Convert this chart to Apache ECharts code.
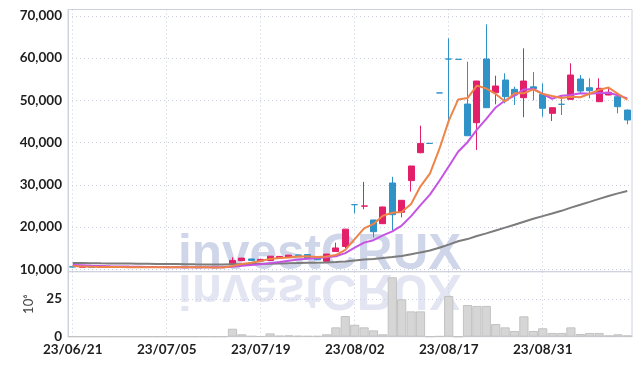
<!DOCTYPE html>
<html><head><meta charset="utf-8">
<script src="https://cdn.jsdelivr.net/npm/echarts@6/dist/echarts.min.js"></script>
<style>html,body{margin:0;padding:0;background:#fff}#c{width:641px;height:366px}</style>
</head><body><div id="c"></div>
<script>
const dates = ['23/06/21','23/06/22','23/06/23','23/06/26','23/06/27','23/06/28','23/06/29','23/06/30','23/07/03','23/07/04',
'23/07/05','23/07/06','23/07/07','23/07/10','23/07/11','23/07/12','23/07/13','23/07/14','23/07/17','23/07/18',
'23/07/19','23/07/20','23/07/21','23/07/24','23/07/25','23/07/26','23/07/27','23/07/28','23/07/31','23/08/01',
'23/08/02','23/08/03','23/08/04','23/08/07','23/08/08','23/08/09','23/08/10','23/08/11','23/08/14','23/08/16',
'23/08/17','23/08/18','23/08/21','23/08/22','23/08/23','23/08/24','23/08/25','23/08/28','23/08/29','23/08/30',
'23/08/31','23/09/01','23/09/04','23/09/05','23/09/06','23/09/07','23/09/08','23/09/11','23/09/12','23/09/13'];
const openP = [10600,10500,10550,10480,10480,10470,10450,10430,10500,10420,10600,10560,10420,10450,10450,10400,10450,
11300,12050,12450,11950,12100,12700,12950,13400,13500,12800,11900,14200,15400,25300,24950,21670,20800,30430,23500,31000,37600,39800,51750,
59780,59700,49120,44700,59780,51800,54810,52600,50620,53200,51420,46920,49060,50240,55040,52990,49670,51260,50860,47700];
const closeP = [10550,10550,10500,10520,10530,10520,10500,10500,10450,10480,10520,10480,10480,10400,10400,10480,10500,
12100,12650,12100,12350,13100,13050,13350,13300,12650,12250,13600,15050,19500,25300,25000,18900,24750,22920,26330,34450,39800,39800,51750,
59780,59700,41620,54570,48250,53390,50860,51260,54570,52800,48110,48250,49060,55990,52200,52270,52840,51900,48490,45340];
const lowP = [10450,10450,10480,10450,10450,10440,10420,10400,10420,10400,10500,10450,10400,10380,10370,10380,10430,
11250,12000,12000,11850,12050,12650,12900,13250,12300,12150,11800,14150,15000,23250,24200,17570,20700,19300,22300,28400,37450,39800,51750,
44940,59700,41600,38240,48200,49060,49290,48890,46000,50000,46120,45100,46520,50200,51660,50480,49600,51200,46920,44320];
const highP = [10650,10580,10580,10550,10560,10550,10530,10530,10520,10500,10620,10580,10500,10470,10460,10500,10520,
12840,12700,12500,12450,13150,13100,13400,13450,13600,12850,13650,16300,19550,25300,30700,21700,24800,31900,26400,34500,44000,39800,51750,
64680,59700,59140,54600,67990,55830,56390,53220,62310,56700,54030,48300,51260,58760,55990,55210,55210,52840,51800,47800];
const volume = [0.1,0.1,0.1,0.1,0.1,0.1,0.1,0.1,0.1,0.1,0.1,0.1,0.1,0.1,0.1,0.1,0.1,
5.3,1.6,0.5,0.3,2.2,0.7,0.9,0.6,0.5,0.5,1.6,6.2,13.7,7.9,6.2,4.2,1.6,39.4,24.8,16.8,16.8,0.1,0.4,
27.0,0,21.0,20.4,20.4,8.4,6.2,3.8,13.5,3.8,5.6,2.5,2.5,6.2,1.8,2.5,2.5,0.9,1.6,0.9];
const ma5 = [10750,10680,10620,10570,10530,10520,10510,10510,10500,10490,10490,10490,10480,10470,10460,10450,10450,
10780,11230,11570,11940,12460,12650,12790,13030,13090,12920,13030,13370,14610,17140,19690,20750,22690,23370,23580,25470,29650,32660,38430,
45120,50170,50530,53480,52780,51510,49740,51670,51670,52580,51520,51000,50560,50840,50720,51550,52470,53040,51540,50170];
const ma10 = [11000,10930,10860,10800,10740,10690,10640,10600,10560,10530,10510,10500,10500,10490,10480,10470,10470,
10630,10850,11010,11190,11460,11710,12010,12300,12520,12690,12840,13080,13820,15120,16310,16890,18030,18990,20360,22580,25200,27680,30900,
34350,37820,40090,43070,45610,48310,49950,51100,52580,52680,51510,50370,51110,51250,51650,51540,51740,51800,51190,50450];
const ma60 = [11500,11480,11450,11420,11400,11370,11350,11320,11300,11280,11250,11230,11200,11170,11150,11150,11160,
11190,11220,11250,11290,11340,11390,11440,11490,11530,11570,11620,11700,11850,12100,12330,12460,12690,12890,13150,13540,14000,14450,15100,
15850,16640,17150,17880,18500,19200,19870,20540,21260,21960,22580,23200,23840,24590,25270,25960,26660,27340,27970,28540];

const UP = '#e31f69', DOWN = '#2f93c8';
const FONT = 'Lato, "Open Sans", sans-serif';
const GRID_C = '#c9cddd';
const candleData = dates.map((d, i) => {
  const item = { value: [openP[i], closeP[i], lowP[i], highP[i]] };
  if (openP[i] === closeP[i]) item.itemStyle = { color: DOWN, color0: DOWN, borderColor: DOWN, borderColor0: DOWN };
  return item;
});

const chart = echarts.init(document.getElementById('c'), null, { renderer: 'canvas' });
const labelStyle = { color: '#1e1e1e', fontFamily: FONT, fontSize: 13.5, fontWeight: 'bold' };
const WM_FONT = 'bold 49.5px "Liberation Sans", sans-serif';
chart.setOption({
  animation: false,
  backgroundColor: '#fff',
  grid: [
    { left: 68, right: 9, top: 9.5, height: 262.2, show: true, borderColor: '#cfd2dc', borderWidth: 1 },
    { left: 68, right: 9, top: 271.7, height: 65, show: true, borderColor: '#cfd2dc', borderWidth: 1 }
  ],
  graphic: [
    { type: 'text', z: 0, x: 178, y: 280, silent: true,
      style: { text: 'investCRUX', font: WM_FONT, fill: '#d0d6ea', verticalAlign: 'bottom' } },
    { type: 'text', z: 0, x: 178, y: 264, scaleY: -1, silent: true,
      style: { text: 'investCRUX', font: WM_FONT, fill: '#d0d6ea', opacity: 0.6, verticalAlign: 'bottom' } }
  ],
  xAxis: [
    { type: 'category', gridIndex: 0, data: dates, boundaryGap: true,
      axisLine: { show: false }, axisTick: { show: false }, axisLabel: { show: false },
      splitLine: { show: true, interval: 9, alignWithLabel: true, lineStyle: { color: GRID_C, type: [1, 3] } } },
    { type: 'category', gridIndex: 1, data: dates, boundaryGap: true,
      axisLine: { show: true, lineStyle: { color: '#cfd2dc' } }, axisTick: { show: false },
      axisLabel: Object.assign({ interval: 9, margin: 6 }, labelStyle),
      splitLine: { show: true, interval: 9, alignWithLabel: true, lineStyle: { color: GRID_C, type: [1, 3] } } }
  ],
  yAxis: [
    { type: 'value', gridIndex: 0, min: 9430, max: 71500, splitNumber: 6, scale: true,
      axisLine: { show: true, lineStyle: { color: '#cfd2dc' } }, axisTick: { show: false },
      axisLabel: Object.assign({ margin: 6, showMinLabel: false, showMaxLabel: false,
        formatter: v => (v % 10000 === 0 ? v.toLocaleString('en-US') : '') }, labelStyle),
      splitLine: { show: true, lineStyle: { color: GRID_C, type: [1, 3] } } },
    { type: 'value', gridIndex: 1, min: 0, max: 43.1, interval: 25,
      name: '10\u2076', nameLocation: 'middle', nameRotate: 90, nameGap: 28,
      nameTextStyle: { color: '#444', fontFamily: FONT, fontSize: 13 },
      axisLine: { show: true, lineStyle: { color: '#cfd2dc' } }, axisTick: { show: false },
      axisLabel: Object.assign({ margin: 6, showMaxLabel: false,
        formatter: v => (v % 25 === 0 ? String(v) : '') }, labelStyle),
      splitLine: { show: true, lineStyle: { color: GRID_C, type: [1, 3] } } }
  ],
  series: [
    { type: 'candlestick', xAxisIndex: 0, yAxisIndex: 0, data: candleData, barWidth: '68%',
      itemStyle: { color: UP, color0: DOWN, borderColor: UP, borderColor0: DOWN, borderWidth: 1 } },
    { type: 'line', xAxisIndex: 0, yAxisIndex: 0, data: ma60, symbol: 'none', lineStyle: { color: '#7c7c7c', width: 2 } },
    { type: 'line', xAxisIndex: 0, yAxisIndex: 0, data: ma10, symbol: 'none', lineStyle: { color: '#c653e4', width: 2 } },
    { type: 'line', xAxisIndex: 0, yAxisIndex: 0, data: ma5, symbol: 'none', lineStyle: { color: '#ee8447', width: 2 } },
    { type: 'bar', xAxisIndex: 1, yAxisIndex: 1, data: volume, barCategoryGap: '2%',
      itemStyle: { color: '#d6d6d6', borderColor: '#c2c2c2', borderWidth: 1 } }
  ]
});
</script></body></html>
